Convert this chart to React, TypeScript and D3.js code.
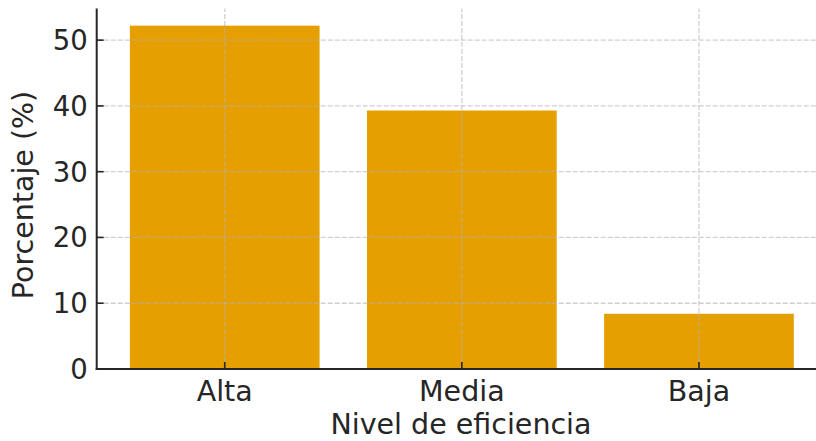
import React from "react";
import * as d3 from "d3";

const categories = ["Alta", "Media", "Baja"];
const values = [52.2, 39.3, 8.4];
const yTicks = [0, 10, 20, 30, 40, 50];
const xLabel = "Nivel de eficiencia";
const yLabel = "Porcentaje (%)";

const W = 816;
const H = 441;
const left = 96.7;
const right = 827;
const bottom = 369;
const top = 8.5;
const textColor = "#262626";
const barColor = "#E69F00";
const font = "DejaVu Sans";
const fs = 27.5;
const labelFs = 28.5;

export default function App() {
  const x = d3
    .scaleBand<string>()
    .domain(categories)
    .range([left, right])
    .paddingInner(0.2)
    .paddingOuter(0.14);
  const yMax = (d3.max(values) as number) * 1.05;
  const y = d3.scaleLinear().domain([0, yMax]).range([bottom, top]);
  const center = (c: string) => (x(c) as number) + x.bandwidth() / 2;

  return (
    <svg
      width={W}
      height={H}
      style={{ position: "absolute", left: 0, top: 0, background: "#fff" }}
      fontFamily={font}
    >
      {categories.map((c, i) => (
        <rect
          key={c}
          x={x(c)}
          y={y(values[i])}
          width={x.bandwidth()}
          height={bottom - y(values[i])}
          fill={barColor}
        />
      ))}
      {yTicks.map((t) => (
        <line
          key={"gy" + t}
          x1={left}
          x2={right}
          y1={y(t)}
          y2={y(t)}
          stroke="#b0b0b0"
          strokeOpacity={0.6}
          strokeWidth={1.3}
          strokeDasharray="5,2"
        />
      ))}
      {categories.map((c) => (
        <line
          key={"gx" + c}
          x1={center(c)}
          x2={center(c)}
          y1={bottom}
          y2={top}
          stroke="#b0b0b0"
          strokeOpacity={0.6}
          strokeWidth={1.3}
          strokeDasharray="5,2"
        />
      ))}
      <line x1={left} x2={left} y1={top} y2={bottom + 1} stroke={textColor} strokeWidth={2} />
      <line x1={left - 1} x2={right} y1={bottom} y2={bottom} stroke={textColor} strokeWidth={2} />
      {yTicks.map((t) => (
        <g key={"ty" + t}>
          <line x1={left} x2={left + 7} y1={y(t)} y2={y(t)} stroke={textColor} strokeWidth={1.6} />
          <text
            x={left - 9}
            y={y(t)}
            dy="0.36em"
            textAnchor="end"
            fontSize={fs}
            fill={textColor}
          >
            {t}
          </text>
        </g>
      ))}
      {categories.map((c) => (
        <g key={"tx" + c}>
          <line x1={center(c)} x2={center(c)} y1={bottom} y2={bottom - 7} stroke={textColor} strokeWidth={1.6} />
          <text x={center(c)} y={400.7} textAnchor="middle" fontSize={labelFs} fill={textColor}>
            {c}
          </text>
        </g>
      ))}
      <text x={(330 + 592) / 2} y={434} textAnchor="middle" fontSize={labelFs} fill={textColor}>
        {xLabel}
      </text>
      <text
        transform={`translate(33.3, ${(87 + 303) / 2}) rotate(-90)`}
        textAnchor="middle"
        fontSize={labelFs}
        fill={textColor}
      >
        {yLabel}
      </text>
    </svg>
  );
}
